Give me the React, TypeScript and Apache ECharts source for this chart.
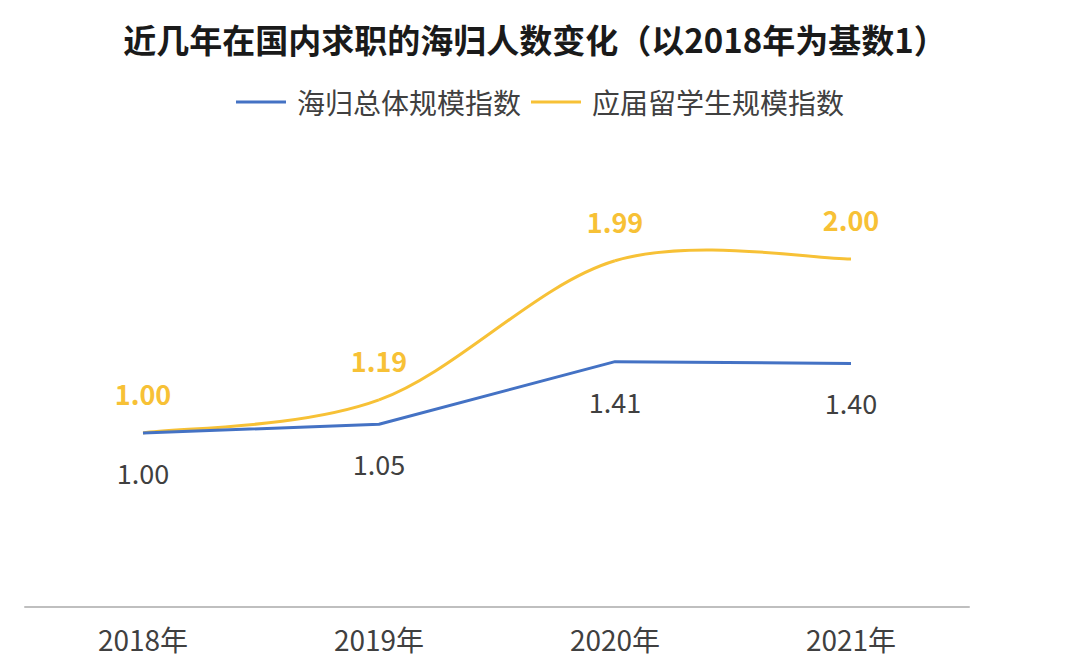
import React, { useEffect, useRef } from "react";
import * as echarts from "echarts";

const titleText = "近几年在国内求职的海归人数变化（以2018年为基数1）";
const years = ["2018年", "2019年", "2020年", "2021年"];
const overallName = "海归总体规模指数";
const overallValues = [1.0, 1.05, 1.41, 1.4];
const freshName = "应届留学生规模指数";
const freshValues = [1.0, 1.19, 1.99, 2.0];

const FONT = "'Noto Sans CJK SC', 'Noto Sans', sans-serif";
const BLUE = "#4472C4";
const GOLD = "#F7C136";
const TENSION = 1 / 6;

export default function App() {
  const ref = useRef<HTMLDivElement>(null);
  useEffect(() => {
    document.body.style.margin = "0";
    const chart = echarts.init(ref.current!, null, { renderer: "svg" });
    const fmt = (p: any) => Number(Array.isArray(p.value) ? p.value[1] : p.value).toFixed(2);
    chart.setOption({
      animation: false,
      backgroundColor: "#ffffff",
      title: {
        text: titleText,
        left: 530,
        textAlign: "center",
        top: 17,
        textStyle: { fontFamily: FONT, fontSize: 33, fontWeight: "bold", color: "#1a1a1a" },
      },
      legend: {
        top: 83,
        left: "center",
        itemWidth: 50,
        itemHeight: 3,
        itemGap: 10,
        icon: "rect",
        textStyle: { fontFamily: FONT, fontSize: 28, color: "#404040", padding: [0, 0, 0, 6] },
        data: [
          { name: overallName, itemStyle: { color: BLUE } },
          { name: freshName, itemStyle: { color: GOLD } },
        ],
      },
      grid: { left: 25, right: 111, top: 172, bottom: 57 },
      xAxis: {
        type: "category",
        data: years,
        boundaryGap: true,
        axisLine: { lineStyle: { color: "#bfbfbf", width: 2 } },
        axisTick: { show: false },
        axisLabel: { fontFamily: FONT, fontSize: 28, color: "#404040", margin: 18 },
      },
      yAxis: {
        type: "value",
        min: 0,
        max: 2.5,
        show: false,
        splitLine: { show: false },
      },
      series: [
        {
          name: overallName,
          type: "line",
          data: overallValues,
          smooth: false,
          symbol: "circle",
          symbolSize: 0,
          showSymbol: true,
          lineStyle: { color: BLUE, width: 3 },
          itemStyle: { color: BLUE },
          label: {
            show: true,
            position: "bottom",
            distance: 26,
            formatter: fmt,
            fontFamily: FONT,
            fontSize: 27,
            color: "#404040",
          },
        },
        {
          name: freshName,
          type: "custom",
          coordinateSystem: "cartesian2d",
          data: freshValues.map((v, i) => [i, v]),
          encode: { x: 0, y: 1 },
          itemStyle: { color: GOLD },
          renderItem: (params: any, api: any) => {
            const i = params.dataIndex;
            const n = freshValues.length;
            if (i >= n - 1) return null;
            const pt = (k: number) => {
              const kk = Math.max(0, Math.min(n - 1, k));
              return api.coord([kk, freshValues[kk]]);
            };
            const p0 = pt(i - 1);
            const p1 = pt(i);
            const p2 = pt(i + 1);
            const p3 = pt(i + 2);
            return {
              type: "bezierCurve",
              shape: {
                x1: p1[0],
                y1: p1[1],
                x2: p2[0],
                y2: p2[1],
                cpx1: p1[0] + (p2[0] - p0[0]) * TENSION,
                cpy1: p1[1] + (p2[1] - p0[1]) * TENSION,
                cpx2: p2[0] - (p3[0] - p1[0]) * TENSION,
                cpy2: p2[1] - (p3[1] - p1[1]) * TENSION,
              },
              style: { stroke: GOLD, lineWidth: 3, fill: "none" },
            };
          },
        },
        {
          name: freshName,
          type: "line",
          data: freshValues,
          symbol: "circle",
          symbolSize: 0,
          showSymbol: true,
          lineStyle: { opacity: 0, width: 0 },
          itemStyle: { color: GOLD },
          z: 5,
          label: {
            show: true,
            position: "top",
            distance: 26,
            formatter: fmt,
            fontFamily: FONT,
            fontSize: 27,
            fontWeight: "bold",
            color: GOLD,
          },
        },
      ],
    });
    return () => chart.dispose();
  }, []);
  return <div ref={ref} style={{ width: 1080, height: 664 }} />;
}
